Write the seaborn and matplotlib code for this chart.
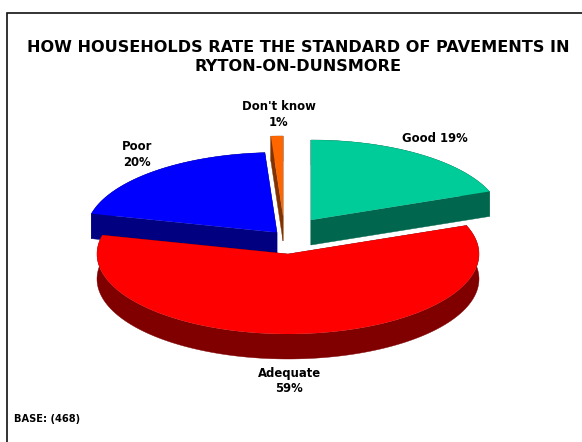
import numpy as np
import pandas as pd
import matplotlib
matplotlib.use('Agg')
import matplotlib.pyplot as plt
import seaborn as sns
from matplotlib.colors import to_rgb

categories = ['Good', 'Adequate', 'Poor', "Don't know"]
percent = [19, 59, 20, 1]
slice_colors = ['#00CC99', '#FF0000', '#0000FF', '#FF6600']
slice_labels = ['Good 19%', 'Adequate\n59%', 'Poor\n20%', "Don't know\n1%"]

title = 'HOW HOUSEHOLDS RATE THE STANDARD OF PAVEMENTS IN\nRYTON-ON-DUNSMORE'
base_note = 'BASE: (468)'

# pie layout, in pixels of the 582x442 picture
RX, RY, DEPTH = 191, 80, 25
centers = {'Good': (311, 220), 'Adequate': (288, 254), 'Poor': (277, 232.5), "Don't know": (283, 216)}
label_pos = {'Good': (435, 138), 'Adequate': (289, 381), 'Poor': (137, 154), "Don't know": (279, 114)}
draw_order = ['Good', 'Poor', "Don't know", 'Adequate']

sns.set_theme(style='white')
plt.rcParams['font.family'] = ['DejaVu Sans']

df = pd.DataFrame({'category': categories, 'percent': percent, 'color': slice_colors, 'label': slice_labels})
df['sweep'] = df['percent'] / df['percent'].sum() * 360
df['start'] = 90 - df['sweep'].cumsum().shift(fill_value=0)
df = df.set_index('category')

fig = plt.figure(figsize=(5.82, 4.42), dpi=100)
ax = fig.add_axes([0, 0, 1, 1])
ax.set_xlim(0, 582)
ax.set_ylim(442, 0)
ax.axis('off')


def slice_arc(start, sweep, center):
    t = np.radians(np.linspace(start, start - sweep, max(int(sweep * 2), 8)))
    return np.column_stack([center[0] + RX * np.cos(t), center[1] - RY * np.sin(t)])


def band(points):
    # a run of edges pulled down by the pie depth
    low = points[::-1] + [0, DEPTH]
    return np.vstack([points, low])


for name in draw_order:
    row = df.loc[name]
    apex = np.array([centers[name]], dtype=float)
    arc = slice_arc(row['start'], row['sweep'], centers[name])
    dark = tuple(np.array(to_rgb(row['color'])) * 0.5)
    # the top face hides whatever part of these bands faces away
    for side in (band(arc), band(np.vstack([apex, arc[:1]])), band(np.vstack([arc[-1:], apex]))):
        ax.fill(side[:, 0], side[:, 1], color=dark, lw=0.3)
    top = np.vstack([apex, arc])
    ax.fill(top[:, 0], top[:, 1], color=row['color'], lw=0)

for name in categories:
    x, y = label_pos[name]
    ax.text(x, y, df.loc[name, 'label'], ha='center', va='center', fontsize=8.4, fontweight='bold',
            color='black', linespacing=1.3)

ax.text(298, 57, title, ha='center', va='center', fontsize=11.6, fontweight='bold', color='black', linespacing=1.29)
ax.text(14, 419, base_note, ha='left', va='center', fontsize=7.1, fontweight='bold', color='black')

# slide frame, only top and left show in the crop
ax.plot([7, 7, 582], [442, 13, 13], color='#111111', lw=1.2, solid_joinstyle='miter')

fig.savefig('out.png', dpi=100)
